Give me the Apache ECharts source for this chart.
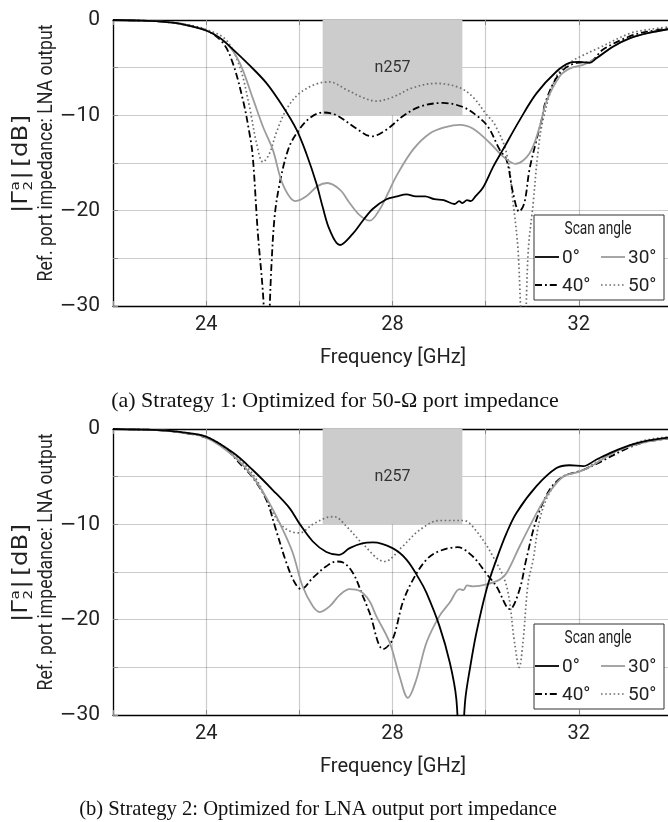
<!DOCTYPE html>
<html><head><meta charset="utf-8">
<script src="https://cdn.jsdelivr.net/npm/echarts@6/dist/echarts.min.js"></script>
<style>html,body{margin:0;padding:0;background:#fff}#c{width:668px;height:822px}</style>
</head><body><div id="c"></div><script>
const FONT = 'Roboto, "DejaVu Sans Condensed", sans-serif';
const WIDE = '"DejaVu Sans", sans-serif';
const SERIF = '"Liberation Serif","Times New Roman",serif';

// axes
const xMin = 22, xMax = 34, xStep = 2;
const xLabeled = [24, 28, 32];
const yMin = -30, yMax = 0, yStep = 5;
const xTitle = 'Frequency [GHz]';
const yTitleSub = 'Ref. port impedance: LNA output';
const angleNames = ['0°', '30°', '40°', '50°'];
const legendTitle = 'Scan angle';
const bandX = [26.5, 29.5], bandY = [0, -10], bandName = 'n257';
const captions = ['(a) Strategy 1: Optimized for 50-Ω port impedance',
                  '(b) Strategy 2: Optimized for LNA output port impedance'];

// Panel (a): Strategy 1
const a_0 = [[22,0],[22.5,-0.05],[23,-0.15],[23.5,-0.45],[24,-1.1],[24.3,-1.9],[24.58,-3.1],[24.9,-4.6],[25.29,-6.6],[25.65,-9.1],[25.94,-11.5],[26.15,-14.0],[26.37,-17.2],[26.5,-19.6],[26.65,-22.0],[26.87,-23.6],[27.15,-22.4],[27.37,-21.0],[27.58,-19.8],[27.87,-18.8],[28.1,-18.5],[28.3,-18.3],[28.5,-18.5],[28.7,-18.5],[28.9,-18.8],[29.1,-18.9],[29.33,-19.3],[29.43,-19.0],[29.5,-19.2],[29.6,-18.9],[29.68,-19.0],[29.78,-18.5],[29.94,-17.6],[30.16,-15.4],[30.37,-13.6],[30.73,-10.5],[31.09,-7.7],[31.52,-5.4],[31.8,-4.5],[32.0,-4.4],[32.23,-4.5],[32.38,-4.0],[32.73,-2.8],[33.1,-1.9],[33.5,-1.35],[34,-0.9]];
const a_30 = [[22,0],[22.5,-0.05],[23,-0.15],[23.5,-0.45],[24,-1.1],[24.43,-2.4],[24.72,-4.5],[25.0,-8.2],[25.22,-11.2],[25.43,-13.6],[25.65,-17.3],[25.92,-19.0],[26.15,-18.5],[26.4,-17.4],[26.6,-17.1],[26.87,-17.8],[27.08,-19.2],[27.3,-20.5],[27.51,-21.05],[27.72,-19.9],[27.9,-18.2],[28.08,-16.4],[28.44,-13.6],[28.8,-11.9],[29.16,-11.2],[29.44,-11.0],[29.73,-11.4],[30.09,-12.9],[30.37,-14.3],[30.64,-15.1],[30.94,-14.0],[31.16,-11.2],[31.3,-8.6],[31.59,-5.9],[31.8,-5.1],[32.09,-4.7],[32.38,-4.0],[32.73,-2.8],[33.1,-1.9],[33.5,-1.35],[34,-0.9]];
const a_40 = [[22,0],[22.5,-0.05],[23,-0.15],[23.5,-0.45],[24,-1.1],[24.36,-2.4],[24.57,-4.5],[24.79,-8.4],[24.93,-11.9],[25.0,-14.3],[25.11,-22.4],[25.22,-28.7],[25.3,-36],[25.4,-25.9],[25.47,-20.6],[25.58,-17.1],[25.76,-13.6],[25.94,-11.9],[26.22,-10.3],[26.51,-9.7],[26.8,-10.0],[27.23,-11.4],[27.55,-12.2],[27.87,-11.5],[28.22,-10.1],[28.58,-9.1],[29.08,-8.7],[29.5,-9.1],[29.8,-10.0],[30.05,-11.2],[30.3,-13.6],[30.45,-14.7],[30.59,-18.2],[30.72,-20.1],[30.83,-19.2],[30.94,-15.7],[31.09,-12.6],[31.2,-10.5],[31.3,-8.4],[31.59,-5.6],[31.95,-4.5],[32.23,-4.4],[32.52,-3.1],[33.1,-1.7],[33.5,-1.2],[34,-0.85]];
const a_50 = [[22,0],[22.5,-0.05],[23,-0.15],[23.5,-0.4],[24,-1.0],[24.43,-2.1],[24.72,-4.9],[24.93,-9.1],[25.08,-12.9],[25.22,-14.9],[25.36,-14.0],[25.5,-11.9],[25.72,-9.4],[26.0,-7.7],[26.37,-6.7],[26.65,-6.5],[27.01,-7.3],[27.37,-8.15],[27.65,-8.5],[28.0,-8.1],[28.44,-7.1],[28.94,-6.65],[29.44,-7.1],[29.73,-8.1],[30.0,-9.8],[30.2,-11.0],[30.45,-14.0],[30.59,-19.2],[30.7,-24.5],[30.815,-38],[30.91,-24.5],[31.02,-19.2],[31.12,-14.0],[31.23,-10.5],[31.52,-5.9],[31.8,-4.5],[32.09,-3.7],[32.4,-3.0],[33.1,-1.4],[33.5,-1.0],[34,-0.7]];

// Panel (b): Strategy 2
const b_0 = [[22,0],[22.5,-0.05],[23,-0.12],[23.5,-0.35],[24,-0.8],[24.58,-2.5],[25.0,-4.3],[25.43,-6.4],[25.79,-8.3],[26.0,-9.9],[26.29,-11.8],[26.58,-12.9],[26.85,-13.2],[27.08,-12.5],[27.35,-12.0],[27.58,-11.9],[28.0,-12.5],[28.3,-13.7],[28.58,-15.8],[28.73,-17.2],[29.01,-20.7],[29.23,-24.5],[29.37,-28.3],[29.46,-36],[29.56,-28.5],[29.66,-25.2],[29.8,-21.4],[30.02,-16.8],[30.23,-13.7],[30.45,-10.9],[30.66,-8.8],[31.09,-6.0],[31.52,-4.1],[31.8,-3.8],[32.09,-3.9],[32.38,-3.2],[32.73,-2.4],[33.1,-1.7],[33.5,-1.2],[34,-0.85]];
const b_30 = [[22,0],[22.5,-0.05],[23,-0.13],[23.5,-0.4],[24,-0.9],[24.58,-2.8],[25.0,-5.0],[25.36,-7.8],[25.65,-10.6],[25.86,-13.0],[26.07,-16.5],[26.29,-18.6],[26.44,-19.2],[26.65,-18.6],[26.87,-17.4],[27.08,-16.8],[27.3,-17.0],[27.5,-18.0],[27.65,-19.6],[27.94,-22.4],[28.15,-25.9],[28.33,-28.2],[28.51,-26.3],[28.73,-22.4],[29.01,-19.6],[29.23,-18.2],[29.44,-16.8],[29.52,-16.9],[29.6,-16.4],[29.73,-16.5],[30.02,-16.3],[30.3,-15.8],[30.45,-15.1],[30.73,-12.3],[31.02,-9.5],[31.3,-7.1],[31.66,-5.0],[32.0,-4.5],[32.3,-3.8],[32.73,-2.5],[33.1,-1.8],[33.5,-1.3],[34,-0.95]];
const b_40 = [[22,0],[22.5,-0.05],[23,-0.13],[23.5,-0.4],[24,-0.9],[24.4,-2.0],[24.72,-3.6],[25.0,-5.1],[25.29,-7.4],[25.5,-10.6],[25.72,-14.0],[25.9,-16.1],[26.04,-16.8],[26.29,-15.6],[26.58,-14.4],[26.8,-13.9],[26.94,-14.0],[27.15,-15.1],[27.37,-17.6],[27.51,-19.3],[27.8,-23.1],[28.0,-22.1],[28.22,-18.2],[28.44,-15.8],[28.73,-13.7],[29.01,-12.8],[29.4,-12.4],[29.73,-13.4],[30.02,-15.2],[30.23,-16.5],[30.52,-18.9],[30.73,-16.8],[30.87,-13.7],[31.09,-9.5],[31.37,-6.4],[31.66,-5.0],[32.09,-4.3],[32.4,-3.6],[33.1,-1.9],[33.5,-1.3],[34,-0.95]];
const b_50 = [[22,0],[22.5,-0.05],[23,-0.12],[23.5,-0.35],[24,-0.8],[24.4,-1.9],[24.72,-3.2],[25.08,-5.3],[25.36,-8.1],[25.58,-9.9],[25.79,-10.7],[26.0,-10.9],[26.29,-10.0],[26.58,-9.3],[26.75,-9.2],[27.01,-10.2],[27.37,-12.1],[27.83,-13.9],[28.22,-12.3],[28.58,-10.6],[29.01,-9.6],[29.52,-9.6],[29.8,-10.7],[30.16,-13.4],[30.45,-16.5],[30.62,-22.4],[30.72,-25.0],[30.8,-22.4],[30.91,-16.2],[31.02,-13.7],[31.16,-9.5],[31.37,-6.7],[31.66,-5.0],[32.09,-4.3],[32.4,-3.4],[33.1,-1.7],[33.5,-1.1],[34,-0.8]];

const panelData = [[a_0, a_30, a_40, a_50], [b_0, b_30, b_40, b_50]];

// ---------- styling / layout ----------
const styles = [
  {color:'#000000', width:1.8, dash:null},
  {color:'#9c9c9c', width:1.8, dash:null},
  {color:'#000000', width:1.8, dash:[7,3,1.8,3]},
  {color:'#6e6e6e', width:1.7, dash:[1.6,2.6]}
];
const panelTop = [20, 429];
const plotH = 286, plotLeft = 113;
const captionCx = [335, 318];

const ctx = document.createElement('canvas').getContext('2d');
function tw(t, size, fam){ ctx.font = size + 'px ' + fam; return ctx.measureText(t).width; }
function sx(t, size, fam, target){ return target / tw(t, size, fam); }

const chart = echarts.init(document.getElementById('c'), null, {renderer:'canvas'});
const grids = [], xAxes = [], yAxes = [], series = [], graphics = [];

panelTop.forEach((top, p) => {
  grids.push({left: plotLeft, right: -4, top: top, height: plotH, outerBoundsMode: 'none', containLabel: false});
  const common = {type:'value', gridIndex:p, min:xMin, max:xMax, interval:xStep};
  xAxes.push(Object.assign({}, common, {
    position:'bottom',
    axisLine:{show:true, onZero:false, lineStyle:{color:'#000', width:1.3}},
    axisTick:{show:true, inside:true, length:5, lineStyle:{color:'#888', width:1}},
    axisLabel:{show:true, margin:9, fontFamily:FONT, fontSize:20, color:'#222',
      formatter: v => xLabeled.indexOf(v) >= 0 ? String(v) : ''},
    splitLine:{show:true, lineStyle:{color:'rgba(0,0,0,0.2)', width:1.2}}
  }));
  xAxes.push(Object.assign({}, common, {
    position:'top',
    axisLine:{show:true, onZero:false, lineStyle:{color:'#000', width:1.3}},
    axisTick:{show:true, inside:true, length:5, lineStyle:{color:'#888', width:1}},
    axisLabel:{show:false}, splitLine:{show:false}
  }));
  yAxes.push({
    type:'value', gridIndex:p, min:yMin, max:yMax, interval:yStep,
    axisLine:{show:true, onZero:false, lineStyle:{color:'#000', width:1.3}},
    axisTick:{show:true, inside:true, length:5, lineStyle:{color:'#888', width:1}},
    axisLabel:{show:true, margin:13, fontFamily:FONT, fontSize:21, color:'#222',
      formatter: v => (v % 10 === 0) ? (v < 0 ? '{m|\u2212}' + (-v) : '0') : '',
      rich:{m:{fontFamily:WIDE, fontSize:20, color:'#222'}}},
    splitLine:{show:true, lineStyle:{color:'rgba(0,0,0,0.2)', width:1.2}}
  });
  // shaded band (below grid lines)
  series.push({
    type:'line', xAxisIndex:p*2, yAxisIndex:p, data:[], z:-1, silent:true, symbol:'none',
    markArea:{silent:true, itemStyle:{color:'#cccccc'},
      label:{show:true, position:'inside', formatter:bandName, fontFamily:FONT, fontSize:16, color:'#333'},
      data:[[{xAxis:bandX[0], yAxis:bandY[0]}, {xAxis:bandX[1], yAxis:bandY[1]}]]}
  });
  panelData[p].forEach((d, i) => {
    series.push({
      name: angleNames[i], type:'line', xAxisIndex:p*2, yAxisIndex:p, data:d,
      symbol:'none', showSymbol:false, smooth:0.35, clip:true, z: 2 + (3 - i) * 0.01,
      lineStyle:{color:styles[i].color, width:styles[i].width, type:styles[i].dash || 'solid'}
    });
  });
  const dy = top - panelTop[0];
  // legend box
  graphics.push({type:'rect', shape:{x:534, y:215 + dy, width:130, height:85},
    style:{fill:'#fff', stroke:'#333', lineWidth:1}, z:10});
  graphics.push({type:'text', x:598, y:229 + dy, z:11, scaleX: sx(legendTitle, 18, FONT, 67),
    style:{text:legendTitle, fontFamily:FONT, fontSize:18, fill:'#222', align:'center', verticalAlign:'middle'}});
  const cols = [535, 601], rows = [257, 285];
  angleNames.forEach((nm, i) => {
    const cx = cols[i % 2], cy = rows[Math.floor(i / 2)] + dy;
    const st = styles[i];
    graphics.push({type:'line', z:11, shape:{x1:cx, y1:cy, x2:cx + 24, y2:cy},
      style:{stroke:st.color, lineWidth:st.width, lineDash:st.dash}});
    graphics.push({type:'text', x:cx + 27, y:cy + 1, z:11,
      style:{text:nm, fontFamily:FONT, fontSize:19, fill:'#222', align:'left', verticalAlign:'middle'}});
  });
  // x title
  graphics.push({type:'text', x:393, y:top + plotH + 52, z:5, scaleX: sx(xTitle, 21, FONT, 146),
    style:{text:xTitle, fontFamily:FONT, fontSize:21, fill:'#222', align:'center', verticalAlign:'middle'}});
  // caption
  const capTarget = [448, 478][p];
  const capSize = 20 * capTarget / tw(captions[p], 20, SERIF);
  graphics.push({type:'text', x:captionCx[p], y:top + plotH + 95, z:5,
    style:{text:captions[p], fontFamily:SERIF, fontSize:capSize, fill:'#111', align:'center', verticalAlign:'middle'}});
  // y title line 2
  graphics.push({type:'text', x:47, y:153 + dy, rotation:Math.PI/2, z:5, scaleX: sx(yTitleSub, 20, FONT, 257),
    style:{text:yTitleSub, fontFamily:FONT, fontSize:20, fill:'#222', align:'center', verticalAlign:'middle'}});
  // y title line 1: |Γ^a_2| [dB]
  const big = 21, small = 13;
  const w1 = tw('|\u0393', big, WIDE), ws = Math.max(tw('a', small, WIDE), tw('2', small, WIDE)) + 1.5;
  const w2 = tw('|', big, WIDE), w3 = tw('[dB]', big, WIDE), gap = 4;
  const W = w1 + ws + w2 + gap + w3;
  const k = 98 / W;
  const x0 = -W / 2;
  graphics.push({type:'group', x:22, y:164 + dy, rotation:Math.PI/2, scaleX:k, z:5, children:[
    {type:'text', x:x0, y:0, style:{text:'|\u0393', fontFamily:WIDE, fontSize:big, fill:'#222', align:'left', verticalAlign:'middle'}},
    {type:'text', x:x0 + w1 + 0.5, y:-6, style:{text:'a', fontFamily:WIDE, fontSize:small, fill:'#222', align:'left', verticalAlign:'middle'}},
    {type:'text', x:x0 + w1 + 0.5, y:7, style:{text:'2', fontFamily:WIDE, fontSize:small, fill:'#222', align:'left', verticalAlign:'middle'}},
    {type:'text', x:x0 + w1 + ws, y:0, style:{text:'|', fontFamily:WIDE, fontSize:big, fill:'#222', align:'left', verticalAlign:'middle'}},
    {type:'text', x:x0 + w1 + ws + w2 + gap, y:0, style:{text:'[dB]', fontFamily:WIDE, fontSize:big, fill:'#222', align:'left', verticalAlign:'middle'}}
  ]});
});

chart.setOption({
  animation:false,
  backgroundColor:'#fff',
  grid:grids, xAxis:xAxes, yAxis:yAxes, series:series,
  graphic:{elements:graphics}
});
</script></body></html>
